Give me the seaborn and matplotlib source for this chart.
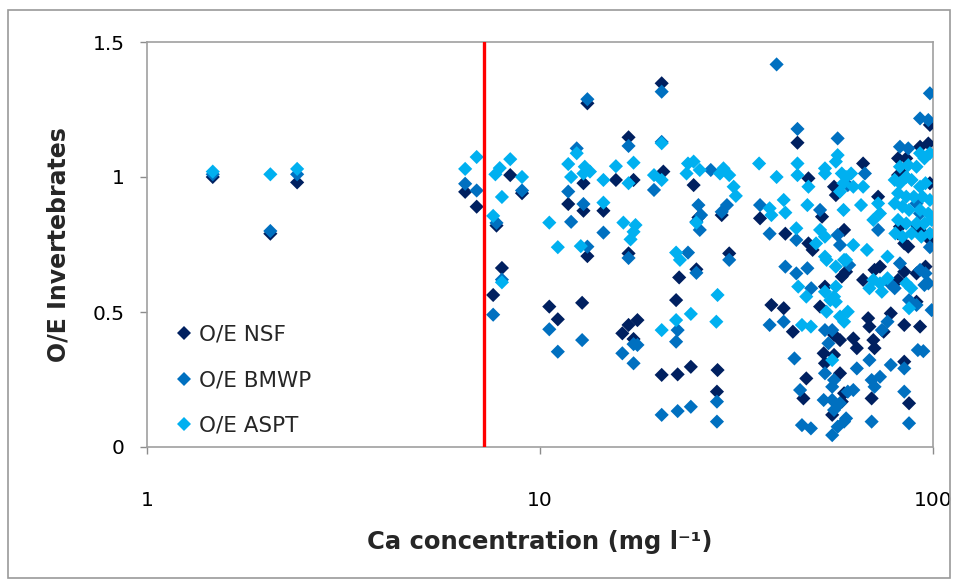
import matplotlib
matplotlib.use("Agg")
import matplotlib.pyplot as plt
from matplotlib.lines import Line2D
from matplotlib.patches import Rectangle
import seaborn as sns
import pandas as pd

# ---- data: (Ca concentration mg/l, O/E value) ----
series_names = ["O/E NSF", "O/E BMWP", "O/E ASPT"]
series_colors = ["#002060", "#0070C0", "#00B0F0"]
threshold_ca = 7.2

nsf_points = [
    (1.47, 1.00), (2.06, 0.79), (2.41, 0.98),
    (6.45, 0.945), (6.9, 0.89),
    (8.4, 1.007), (9.0, 0.94), (7.75, 0.82), (8.0, 0.663), (7.6, 0.563),
    (10.56, 0.52), (11.1, 0.473),
    (11.8, 0.90), (12.9, 0.977), (12.9, 0.875), (13.2, 0.707), (12.8, 0.534), (13.2, 1.273),
    (14.5, 0.875),
    (15.6, 0.989), (16.8, 1.147), (17.3, 0.989), (16.8, 0.717), (16.2, 0.421), (16.8, 0.452), (17.7, 0.47), (17.3, 0.40),
    (20.4, 1.347), (20.6, 1.02), (25.0, 0.658), (22.6, 0.628), (22.2, 0.544), (20.4, 0.267), (22.4, 0.269), (24.2, 0.297),
    (24.6, 0.97), (25.3, 0.85), (29.0, 0.859), (28.3, 0.285), (28.2, 0.205), (30.3, 0.717),
    (45.2, 1.127), (48.2, 0.995), (36.3, 0.847), (42.1, 0.79), (48.2, 0.754), (49.4, 0.73), (38.8, 0.526),
    (41.7, 0.514), (44.0, 0.427), (47.6, 0.254), (46.8, 0.18),
    (52.2, 0.853), (51.6, 0.52), (53.1, 0.31), (59.4, 0.804), (78.1, 0.495), (90.8, 0.538),
    (98.2, 1.193), (92.7, 1.112), (97.3, 1.124), (81.5, 1.069), (85.5, 1.069), (66.4, 1.05), (56.0, 0.964),
    (56.6, 0.933), (72.5, 0.927), (81.5, 1.007), (83.6, 1.013), (98.2, 0.977), (82.4, 0.816), (81.5, 0.791),
    (84.5, 0.754), (90.8, 0.822), (93.4, 0.797), (98.2, 0.767),
    (86.5, 0.742), (60.1, 0.649), (58.6, 0.631), (66.4, 0.619), (71.0, 0.656), (73.3, 0.668), (90.8, 0.643),
    (95.7, 0.668), (81.5, 0.619), (84.5, 0.649), (53.1, 0.594), (68.4, 0.477), (68.9, 0.446), (56.0, 0.415),
    (58.0, 0.396), (62.7, 0.402), (64.0, 0.366), (70.5, 0.396), (71.0, 0.366), (74.9, 0.427), (84.5, 0.452),
    (92.7, 0.446), (52.7, 0.347), (56.0, 0.341), (58.0, 0.273), (84.5, 0.316), (59.4, 0.199), (58.6, 0.168),
    (69.8, 0.18), (86.9, 0.162), (55.4, 0.119),
]

bmwp_points = [
    (1.47, 1.01), (2.06, 0.80), (2.41, 1.01),
    (6.45, 0.975), (6.9, 0.95),
    (9.0, 0.95), (7.75, 0.83), (8.0, 0.62), (7.6, 0.49),
    (10.56, 0.436), (11.1, 0.353),
    (12.4, 1.106), (11.8, 0.946), (12.0, 0.834), (12.9, 0.90), (13.2, 0.742), (12.8, 0.396), (13.2, 1.288),
    (14.5, 0.794),
    (16.8, 1.115), (16.8, 0.70), (16.2, 0.347), (17.3, 0.381), (17.7, 0.378), (17.3, 0.31),
    (20.4, 1.316), (20.4, 1.13), (19.5, 0.952), (23.8, 0.72), (25.0, 0.645), (22.4, 0.433), (22.2, 0.39),
    (20.4, 0.119), (22.4, 0.133), (24.2, 0.149),
    (27.2, 1.026), (25.3, 0.896), (25.7, 0.859), (25.0, 0.834), (25.5, 0.804), (29.0, 0.871), (29.9, 0.896),
    (28.2, 0.168), (28.2, 0.094), (30.3, 0.693),
    (40.0, 1.417), (45.2, 1.178), (36.3, 0.896), (38.4, 0.79), (44.9, 0.767), (42.1, 0.668), (44.9, 0.643),
    (47.9, 0.662), (49.0, 0.588), (38.4, 0.452), (41.7, 0.464), (44.4, 0.328), (45.9, 0.211), (46.4, 0.081),
    (48.9, 0.069),
    (51.6, 0.878), (57.2, 0.785), (54.2, 0.384), (56.0, 0.137), (60.1, 0.106), (62.7, 0.211), (94.5, 0.355),
    (98.2, 1.31), (92.7, 1.217), (97.3, 1.211), (57.2, 1.143), (82.4, 1.112), (86.5, 1.106), (67.1, 1.013),
    (60.7, 0.97), (72.5, 0.804), (90.8, 0.902), (92.7, 0.865), (98.2, 0.74),
    (58.0, 0.748), (82.4, 0.68), (61.2, 0.674), (92.7, 0.656), (95.7, 0.643), (97.3, 0.606), (95.1, 0.60),
    (79.9, 0.588), (77.6, 0.606), (86.9, 0.544), (90.8, 0.526), (99.2, 0.507), (76.6, 0.464), (74.1, 0.433),
    (53.1, 0.433), (55.4, 0.433), (91.5, 0.359), (64.0, 0.291), (68.9, 0.322), (78.1, 0.304), (84.5, 0.291),
    (53.1, 0.273), (56.0, 0.248), (55.4, 0.223), (60.7, 0.205), (52.7, 0.174), (55.4, 0.174), (58.0, 0.162),
    (69.8, 0.248), (71.0, 0.223), (73.3, 0.26), (84.5, 0.205), (59.4, 0.094), (57.2, 0.075), (69.8, 0.094),
    (86.9, 0.088), (55.4, 0.044),
]

aspt_points = [
    (1.47, 1.02), (2.06, 1.01), (2.41, 1.03),
    (6.45, 1.03), (6.9, 1.074),
    (8.4, 1.066), (7.9, 1.033), (7.7, 1.01), (9.0, 1.0), (8.0, 0.926), (7.6, 0.856), (8.0, 0.61),
    (10.56, 0.831), (11.1, 0.74),
    (12.4, 1.088), (11.8, 1.048), (12.0, 1.0), (13.0, 1.038), (13.4, 1.02), (12.9, 1.013), (12.7, 0.744),
    (14.5, 0.989), (14.5, 0.905),
    (15.6, 1.04), (16.8, 0.977), (17.3, 1.053), (16.3, 0.831), (17.5, 0.822), (17.3, 0.797), (17.0, 0.769),
    (20.4, 1.125), (19.5, 1.007), (20.4, 0.989), (22.2, 0.72), (22.7, 0.693), (22.2, 0.47), (24.2, 0.493),
    (20.4, 0.433),
    (23.8, 1.05), (24.6, 1.057), (25.5, 1.026), (23.6, 1.013), (28.7, 1.013), (25.0, 0.831), (28.3, 0.563),
    (28.1, 0.464),
    (29.3, 1.032), (30.3, 1.007), (31.1, 0.964), (31.5, 0.93),
    (36.1, 1.05), (45.2, 1.05), (45.2, 1.007), (40.0, 1.0), (48.2, 0.964), (38.4, 0.884), (38.8, 0.859),
    (41.7, 0.915), (42.1, 0.868), (47.9, 0.896), (44.9, 0.81), (45.4, 0.594), (47.6, 0.557), (46.4, 0.452),
    (48.9, 0.446),
    (51.6, 0.804), (53.1, 0.779), (50.4, 0.754), (53.6, 0.693), (60.1, 0.693), (56.6, 0.594), (56.0, 0.557),
    (98.2, 1.088), (92.7, 1.088), (95.1, 1.069), (82.4, 1.038), (86.5, 1.044), (90.8, 1.038), (57.2, 1.081),
    (56.6, 1.057), (53.1, 1.032), (53.1, 1.013), (58.6, 1.013), (60.1, 1.0), (61.9, 1.013), (59.2, 0.977),
    (62.7, 0.964), (58.0, 0.946), (66.4, 0.964), (65.6, 0.896), (59.2, 0.878), (72.5, 0.902), (73.3, 0.865),
    (70.5, 0.841),
    (79.9, 0.989), (82.4, 0.977), (85.5, 1.0), (88.2, 0.989), (92.7, 0.964), (95.7, 0.977), (81.5, 0.94),
    (85.5, 0.927), (89.4, 0.927), (94.0, 0.927), (98.2, 0.915), (79.9, 0.902), (83.6, 0.89), (86.9, 0.878),
    (92.7, 0.878), (97.3, 0.865), (81.5, 0.841), (85.5, 0.828), (90.8, 0.828), (95.1, 0.828), (99.2, 0.841),
    (80.2, 0.791), (83.6, 0.779), (88.2, 0.791), (93.4, 0.779), (98.2, 0.791),
    (62.7, 0.748), (67.9, 0.73), (76.6, 0.705), (53.1, 0.705), (56.6, 0.668), (59.4, 0.693), (70.5, 0.619),
    (73.3, 0.606), (76.6, 0.625), (68.9, 0.588), (74.1, 0.575), (85.5, 0.606), (88.0, 0.588), (86.9, 0.514),
    (53.1, 0.575), (54.8, 0.544), (56.6, 0.538), (53.6, 0.501), (58.0, 0.483), (59.4, 0.464), (60.7, 0.501),
    (55.4, 0.322),
]

x_ticks = [1, 10, 100]
x_tick_labels = ["1", "10", "100"]
y_ticks = [0, 0.5, 1, 1.5]
y_tick_labels = ["0", "0.5", "1", "1.5"]

# ---- build long-form table ----
rows = []
for name, pts in zip(series_names, [nsf_points, bmwp_points, aspt_points]):
    for ca, oe in pts:
        rows.append({"Ca": ca, "OE": oe, "Series": name})
df = pd.DataFrame(rows)

sns.set_theme(style="white")
plt.rcParams["font.family"] = ["DejaVu Sans"]

fig = plt.figure(figsize=(9.6, 5.8), dpi=100)
ax = fig.add_axes([147 / 960, 1 - 447 / 580, 786 / 960, 405 / 580])

sns.scatterplot(data=df, x="Ca", y="OE", hue="Series", hue_order=series_names,
                palette=series_colors, marker="D", s=52, linewidth=0,
                legend=False, ax=ax, zorder=3)

ax.axvline(threshold_ca, color="#FF0000", lw=2.4, zorder=4)

ax.set_xscale("log")
ax.set_xlim(1, 100)
ax.set_ylim(0, 1.5)
ax.set_xticks(x_ticks)
ax.set_xticklabels(x_tick_labels)
ax.xaxis.set_minor_locator(matplotlib.ticker.NullLocator())
ax.set_yticks(y_ticks)
ax.set_yticklabels(y_tick_labels)

ax.tick_params(axis="both", which="major", direction="out", length=5, width=1,
               color="#8c8c8c", labelsize=14.5, labelcolor="black", left=True, bottom=True)
ax.tick_params(axis="y", pad=11)
ax.tick_params(axis="x", pad=27)

for side in ["left", "bottom", "top", "right"]:
    ax.spines[side].set_visible(True)
    ax.spines[side].set_color("#a0a0a0")
    ax.spines[side].set_linewidth(1.2)

ax.set_xlabel("Ca concentration (mg l\u207b\u00b9)", fontsize=17.5, fontweight="bold", labelpad=14)
ax.set_ylabel("O/E Invertebrates", fontsize=17, fontweight="bold", labelpad=16)

handles = [Line2D([0], [0], marker="D", linestyle="none", markersize=7,
                  markerfacecolor=c, markeredgewidth=0) for c in series_colors]
ax.legend(handles, series_names, loc="lower left", bbox_to_anchor=(0.02, -0.01),
          frameon=False, fontsize=15.5, labelspacing=1.2, handlelength=0.6,
          handletextpad=0.4, borderaxespad=0.3)

# outer chart border
fig.patches.append(Rectangle((8 / 960, 2 / 580), 942 / 960, 568 / 580, transform=fig.transFigure,
                             fill=False, edgecolor="#9a9a9a", linewidth=1.2))

fig.savefig("out.png", dpi=100)
